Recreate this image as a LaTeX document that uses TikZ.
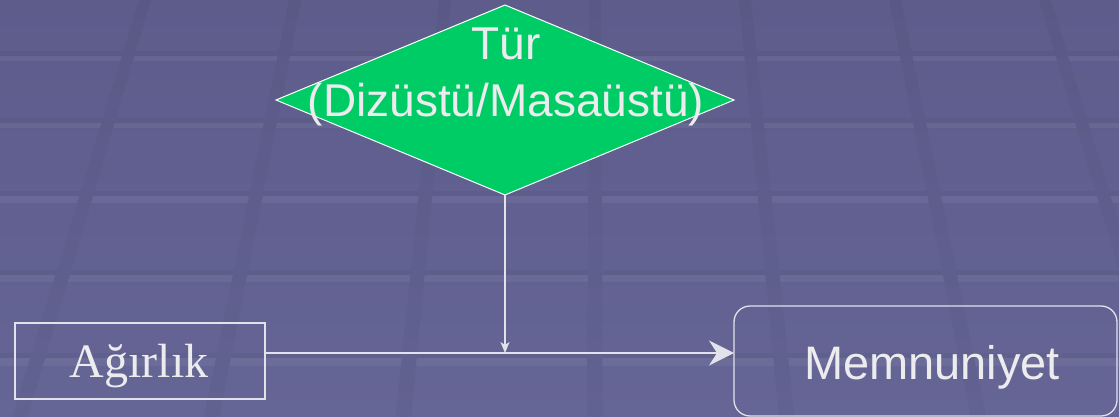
\documentclass[tikz,border=0pt]{standalone}
\usepackage{fontspec}
\setmainfont{Liberation Serif}
\newfontfamily\arialf{Liberation Sans}
\usetikzlibrary{shapes.geometric,arrows.meta}
\definecolor{bgtop}{RGB}{93,92,139}
\definecolor{bgbot}{RGB}{101,101,150}
\definecolor{striptop}{RGB}{90,89,134}
\definecolor{stripbot}{RGB}{98,98,145}
\definecolor{tgreen}{RGB}{0,204,102}
\definecolor{textc}{RGB}{236,236,238}
\definecolor{linec}{RGB}{226,226,234}
\tikzset{
  conn/.style={draw=linec, line width=1.5pt},
  boxstyle/.style={draw=linec, line width=1.3pt, inner sep=0pt, outer sep=0pt},
  lbl/.style={text=textc, inner sep=0pt, outer sep=0pt},
}
\begin{document}
\begin{tikzpicture}[x=1pt,y=-1pt]
\useasboundingbox (0,0) rectangle (1119,417);
% background
\shade[top color=bgtop,bottom color=bgbot] (0,0) rectangle (1119,417);
\foreach \y/\t in {59/5,126/5,199/7,278/7,362/8} {
  \fill[black,opacity=0.03] (0,{\y-\t/2-5}) rectangle (1119,{\y-\t/2});
  \fill[white,opacity=0.055] (0,{\y-\t/2}) rectangle (1119,{\y+\t/2});
}
\foreach \x in {145,295,445,595,745,895,1045} {
  \shade[top color=striptop,bottom color=stripbot]
    ({\x-6},0) -- ({\x+6},0) -- ({\x+7.7+(\x-595)*0.278},417) -- ({\x-7.7+(\x-595)*0.278},417) -- cycle;
}
% nodes
\node[diamond, fill=tgreen, draw=white, line width=1pt, minimum width=458pt, minimum height=190pt, inner sep=0pt, outer sep=0pt] (tur) at (505,100) {};
\node[lbl, font=\arialf\fontsize{46}{57}\selectfont, align=center] (turtext) at (506,77) {Tür\\(Dizüstü/Masaüstü)};
\node[boxstyle, minimum width=250pt, minimum height=76pt] (agi) at (140,361) {};
\node[lbl, font=\fontsize{48}{58}\selectfont, anchor=base] (agitext) at (139,377) {Ağırlık};
\node[boxstyle, rounded corners=16pt, minimum width=383pt, minimum height=110pt] (mem) at (925.5,361) {};
\node[lbl, font=\arialf\fontsize{47}{57}\selectfont, anchor=base] (memtext) at (932,379) {Memnuniyet};
% connectors
\coordinate (join) at (505,353);
\draw[conn, -{Stealth[length=25pt,width=25pt,inset=8pt]}] ([yshift=8pt]agi.east) -- ([yshift=8pt]mem.west);
\draw[conn, -{Stealth[length=11pt,width=9pt,inset=3pt]}] (tur.south) -- (join);
\end{tikzpicture}
\end{document}
